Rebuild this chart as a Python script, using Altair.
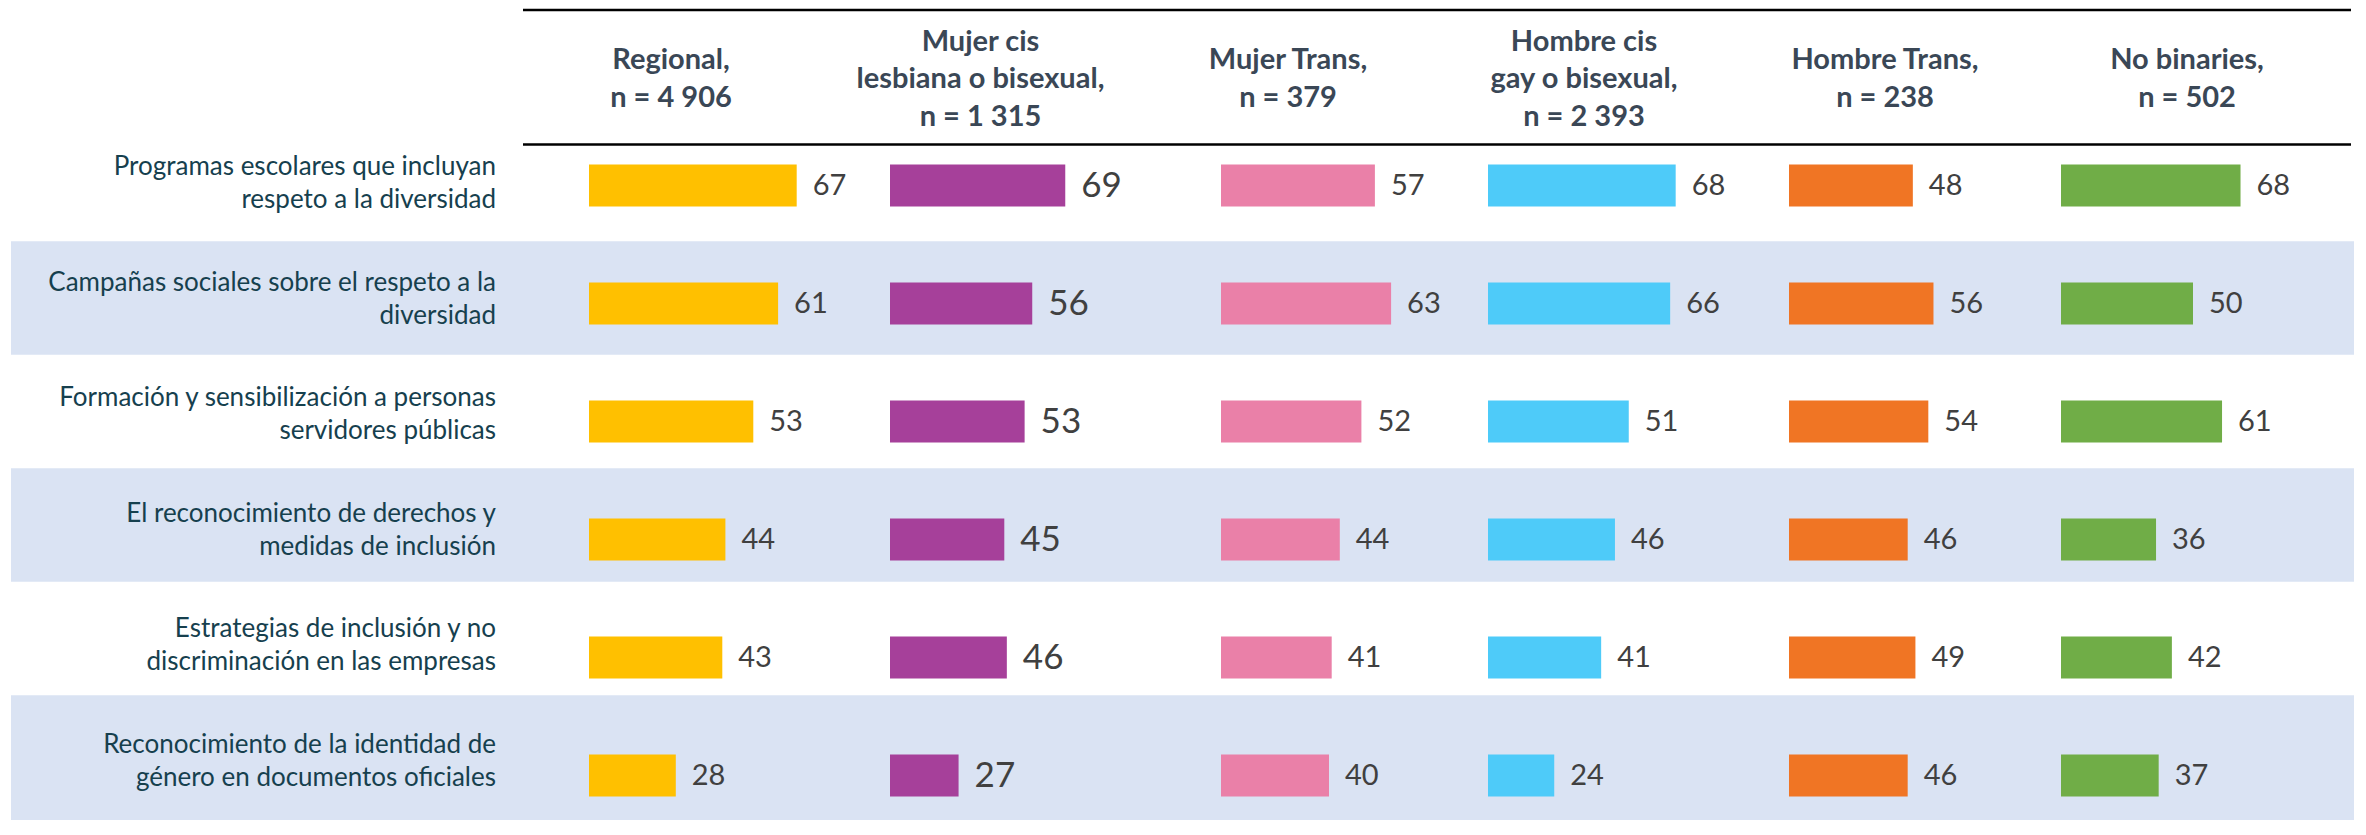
import altair as alt
import pandas as pd

# ---------------- data ----------------
row_labels = [
    "Programas escolares que incluyan\nrespeto a la diversidad",
    "Campañas sociales sobre el respeto a la\ndiversidad",
    "Formación y sensibilización a personas\nservidores públicas",
    "El reconocimiento de derechos y\nmedidas de inclusión",
    "Estrategias de inclusión y no\ndiscriminación en las empresas",
    "Reconocimiento de la identidad de\ngénero en documentos oficiales",
]
headers = [
    "Regional,\nn = 4 906",
    "Mujer cis\nlesbiana o bisexual,\nn = 1 315",
    "Mujer Trans,\nn = 379",
    "Hombre cis\ngay o bisexual,\nn = 2 393",
    "Hombre Trans,\nn = 238",
    "No binaries,\nn = 502",
]
regional = [67, 61, 53, 44, 43, 28]
mujer_cis = [69, 56, 53, 45, 46, 27]
mujer_trans = [57, 63, 52, 44, 41, 40]
hombre_cis = [68, 66, 51, 46, 41, 24]
hombre_trans = [48, 56, 54, 46, 49, 46]
no_binaries = [68, 50, 61, 36, 42, 37]
series = [regional, mujer_cis, mujer_trans, hombre_cis, hombre_trans, no_binaries]

# ---------------- style / layout ----------------
colors = ["#FFC000", "#A6409A", "#EA80A8", "#4ECBF9", "#F07524", "#70AD47"]
BAND = "#DAE3F3"
HEAD_COLOR = "#3A4756"
LABEL_COLOR = "#16404E"
VALUE_COLOR = "#404040"
FONT = "Lato"

H = 812
label_w = 515
# panel boundaries (chart px): 515 | 842 | 1126 | 1442 | 1727 | 2028 | 2346
col_w = [327, 284, 316, 285, 301, 318]
bar_start = [66, 40, 87, 38, 54, 25]
px_per_unit = [3.1, 2.54, 2.70, 2.76, 2.58, 2.64]
head_cx = [148, 130.5, 154, 134, 150, 151]
value_fs = [29, 35, 29, 29, 29, 29]
HEAD_LH = 37.5
LABEL_LH = 33

band_range = [119.7, 800.7]
bar_range = [118.5, 826.5]
label_range = [175.4, 753.4]

idx = list(range(len(row_labels)))
rows_df = pd.DataFrame({"row": row_labels, "i": idx})
shade_mid = rows_df[(rows_df.i % 2 == 1) & (rows_df.i < len(row_labels) - 1)]
last_row = row_labels[-1]
last_df = rows_df[rows_df.i == len(row_labels) - 1]
one = pd.DataFrame({"a": [0]})


def band_layers(x0, x1):
    ys = alt.Scale(type="band", domain=row_labels, range=band_range,
                   paddingInner=0, paddingOuter=0)
    mid = alt.Chart(shade_mid).mark_rect(color=BAND).encode(
        x=alt.value(x0), x2=alt.value(x1),
        y=alt.Y("row:N", scale=ys, axis=None))
    last_scale = alt.Scale(type="band", domain=[last_row],
                           range=[band_range[0] + 5 * (band_range[1] - band_range[0]) / 6, H],
                           paddingInner=0, paddingOuter=0)
    last = alt.Chart(last_df).mark_rect(color=BAND).encode(
        x=alt.value(x0), x2=alt.value(x1),
        y=alt.Y("row:N", scale=last_scale, axis=None))
    return [mid, last]


# label panel
lab_scale = alt.Scale(type="point", domain=row_labels, range=label_range, padding=0)
labels = alt.Chart(rows_df).mark_text(
    align="right", baseline="middle", lineBreak="\n", font=FONT,
    fontSize=26, lineHeight=LABEL_LH, color=LABEL_COLOR, dy=-LABEL_LH / 2
).encode(
    x=alt.value(488),
    y=alt.Y("row:N", scale=lab_scale, axis=None),
    text="row:N",
)
label_panel = alt.layer(*band_layers(3, label_w), labels).resolve_scale(
    y="independent").properties(width=label_w, height=H)

panels = []
for k in range(len(series)):
    W = col_w[k]
    df = pd.DataFrame({"row": row_labels, "v": series[k]})
    xs = alt.Scale(domain=[0, 100], range=[bar_start[k], bar_start[k] + 100 * px_per_unit[k]])
    ys = alt.Scale(type="band", domain=row_labels, range=bar_range,
                   paddingInner=0.644, paddingOuter=0.322)
    bars = alt.Chart(df).mark_bar(color=colors[k]).encode(
        x=alt.X("v:Q", scale=xs, axis=None),
        y=alt.Y("row:N", scale=ys, axis=None),
    )
    vals = alt.Chart(df).mark_text(
        align="left", baseline="middle", dx=16, font=FONT,
        fontSize=value_fs[k], color=VALUE_COLOR
    ).encode(
        x=alt.X("v:Q", scale=xs, axis=None),
        y=alt.Y("row:N", scale=ys, axis=None),
        text="v:Q",
    )
    n_lines = headers[k].count("\n") + 1
    head = alt.Chart(pd.DataFrame({"t": [headers[k]]})).mark_text(
        align="center", baseline="middle", lineBreak="\n", font=FONT,
        fontSize=29, fontWeight="bold", lineHeight=HEAD_LH, color=HEAD_COLOR,
        dy=-(n_lines - 1) * HEAD_LH / 2
    ).encode(x=alt.value(head_cx[k]), y=alt.value(71), text="t:N")
    line_end = W - 3 if k == len(series) - 1 else W
    top_rule = alt.Chart(one).mark_rule(color="black", strokeWidth=2.5).encode(
        x=alt.value(0), x2=alt.value(line_end), y=alt.value(2))
    bot_rule = alt.Chart(one).mark_rule(color="black", strokeWidth=2.5).encode(
        x=alt.value(0), x2=alt.value(line_end), y=alt.value(136.5))
    p = alt.layer(*band_layers(0, W), top_rule, bot_rule, head, bars, vals).resolve_scale(
        y="independent", x="independent").properties(width=W, height=H)
    panels.append(p)

chart = alt.hconcat(label_panel, *panels, spacing=0, bounds="flush", padding=0).configure_view(
    stroke=None)

chart.save("out.html", embed_options={"renderer": "svg", "actions": False})
